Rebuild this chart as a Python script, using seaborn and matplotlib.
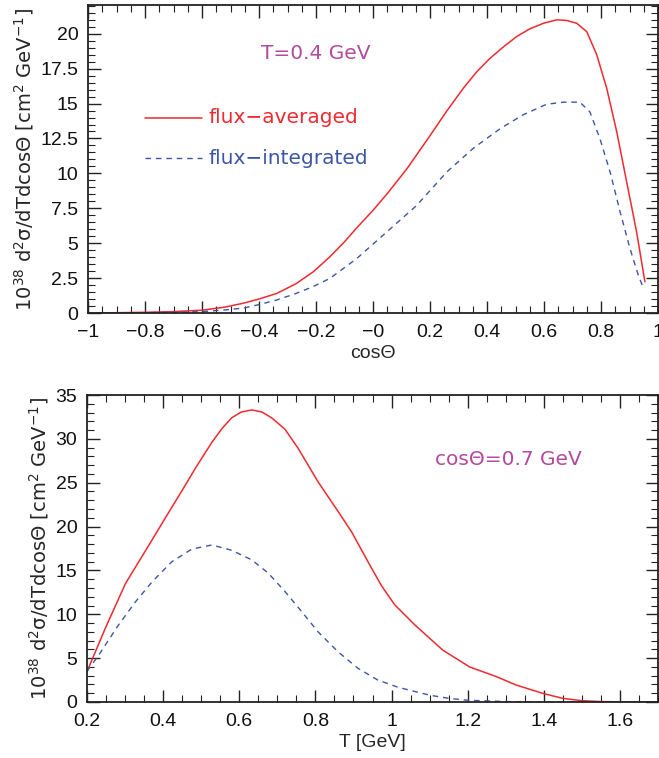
import numpy as np
import pandas as pd
import matplotlib
matplotlib.use("Agg")
import matplotlib.pyplot as plt
from matplotlib.ticker import MultipleLocator
import seaborn as sns

# Top panel: T = 0.4 GeV, distribution in cos(theta)
cos_theta = [-1.0, -0.9, -0.8, -0.7, -0.6, -0.52, -0.455, -0.4, -0.338, -0.27, -0.209,
             -0.151, -0.1, -0.057, 0.0, 0.048, 0.118, 0.2, 0.26, 0.317, 0.365, 0.411,
             0.46, 0.504, 0.55, 0.598, 0.645, 0.68, 0.715, 0.75, 0.785, 0.82, 0.855,
             0.89, 0.925, 0.954]
top_averaged = [0.0, 0.02, 0.05, 0.1, 0.2, 0.42, 0.7, 1.0, 1.4, 2.1, 2.96,
                4.03, 5.1, 6.1, 7.35, 8.5, 10.3, 12.7, 14.5, 16.1, 17.3, 18.25,
                19.1, 19.8, 20.35, 20.75, 21.0, 20.95, 20.75, 20.15, 18.5, 16.1, 13.0,
                9.4, 5.8, 2.24]
cos_theta_int = [-1.0, -0.9, -0.8, -0.7, -0.6, -0.52, -0.455, -0.4, -0.338, -0.27,
                 -0.209, -0.151, -0.057, 0.048, 0.153, 0.259, 0.352, 0.446, 0.527,
                 0.609, 0.668, 0.726, 0.761, 0.796, 0.832, 0.867, 0.902, 0.931, 0.949]
top_integrated = [0.0, 0.01, 0.02, 0.05, 0.1, 0.22, 0.35, 0.6, 0.93, 1.4,
                  1.9, 2.48, 3.9, 5.8, 7.7, 10.1, 11.8, 13.2, 14.2,
                  14.95, 15.1, 15.1, 14.4, 12.5, 10.1, 7.25, 4.6, 2.7, 1.77]

# Bottom panel: cos(theta) = 0.7, distribution in T
t_avg = [0.2, 0.248, 0.301, 0.353, 0.406, 0.458, 0.484, 0.528, 0.555, 0.58, 0.605,
         0.633, 0.66, 0.685, 0.72, 0.755, 0.807, 0.86, 0.895, 0.938, 0.973, 1.008,
         1.061, 1.135, 1.205, 1.275, 1.327, 1.397, 1.449, 1.5, 1.55, 1.6, 1.7]
bot_averaged = [3.46, 8.4, 13.5, 17.2, 21.0, 24.7, 26.6, 29.6, 31.2, 32.4, 33.05,
                33.3, 33.05, 32.4, 31.1, 28.9, 25.1, 21.7, 19.4, 16.0, 13.3, 11.1,
                8.8, 5.9, 4.0, 2.9, 1.94, 0.99, 0.42, 0.15, 0.05, 0.02, 0.0]
t_int = [0.2, 0.231, 0.283, 0.327, 0.371, 0.423, 0.476, 0.528, 0.58, 0.633, 0.676,
         0.72, 0.764, 0.807, 0.86, 0.912, 0.964, 1.017, 1.061, 1.1, 1.15, 1.2, 1.3,
         1.4, 1.7]
bot_integrated = [3.5, 5.36, 8.8, 11.4, 13.7, 16.0, 17.45, 17.9, 17.3, 16.2, 14.7,
                  12.6, 10.3, 8.0, 5.7, 3.84, 2.5, 1.68, 1.2, 0.78, 0.42, 0.2, 0.05,
                  0.01, 0.0]

top_xticks = [-1, -0.8, -0.6, -0.4, -0.2, 0, 0.2, 0.4, 0.6, 0.8, 1]
top_xticklabels = ["\u22121", "\u22120.8", "\u22120.6", "\u22120.4", "\u22120.2", "\u22120",
                   "0.2", "0.4", "0.6", "0.8", "1"]
top_yticks = [0, 2.5, 5, 7.5, 10, 12.5, 15, 17.5, 20]
top_yticklabels = ["0", "2.5", "5", "7.5", "10", "12.5", "15", "17.5", "20"]
bot_xticks = [0.2, 0.4, 0.6, 0.8, 1.0, 1.2, 1.4, 1.6]
bot_xticklabels = ["0.2", "0.4", "0.6", "0.8", "1", "1.2", "1.4", "1.6"]
bot_yticks = [0, 5, 10, 15, 20, 25, 30, 35]

RED = "#ee2a30"
BLUE = "#3d56a6"
MAGENTA = "#b24a9e"
FRAME = "#222222"

sns.set_style("ticks")
plt.rcParams["font.family"] = ["Liberation Sans", "DejaVu Sans"]
plt.rcParams["mathtext.fontset"] = "dejavusans"
plt.rcParams["axes.unicode_minus"] = True

FS = 14          # tick labels and axis titles
FS_TXT = 14.5    # annotations and key
WIDE = ["DejaVu Sans"]
ylabel = "10$^{38}$ d$^{2}$\u03c3/dTdcos\u0398 [cm$^{2}$ GeV$^{-1}$]"

fig = plt.figure(figsize=(6.59, 7.58), dpi=100)
ax1 = fig.add_axes([88 / 659, 1 - 313 / 758, 570 / 659, 308 / 758])
ax2 = fig.add_axes([87 / 659, 1 - 702 / 758, 571 / 659, 307 / 758])

df_top_a = pd.DataFrame({"x": cos_theta, "y": top_averaged})
df_top_i = pd.DataFrame({"x": cos_theta_int, "y": top_integrated})
df_bot_a = pd.DataFrame({"x": t_avg, "y": bot_averaged})
df_bot_i = pd.DataFrame({"x": t_int, "y": bot_integrated})

sns.lineplot(data=df_top_a, x="x", y="y", ax=ax1, color=RED, lw=1.1, sort=False)
sns.lineplot(data=df_top_i, x="x", y="y", ax=ax1, color=BLUE, lw=1.0, sort=False,
             dashes=False).lines[-1].set_dashes([4, 3.5])
sns.lineplot(data=df_bot_a, x="x", y="y", ax=ax2, color=RED, lw=1.1, sort=False)
sns.lineplot(data=df_bot_i, x="x", y="y", ax=ax2, color=BLUE, lw=1.0, sort=False,
             dashes=False).lines[-1].set_dashes([4, 3.5])

# key drawn in data coordinates inside the top panel
ax1.plot([-0.8, -0.6], [14.0, 14.0], color=RED, lw=1.1)
ax1.plot([-0.8, -0.6], [11.1, 11.1], color=BLUE, lw=1.0, dashes=[4, 3.5])
ax1.text(-0.578, 14.0, "flux\u2212averaged", color=RED, fontsize=FS_TXT,
         family=WIDE, va="center", ha="left")
ax1.text(-0.578, 11.1, "flux\u2212integrated", color=BLUE, fontsize=FS_TXT,
         family=WIDE, va="center", ha="left")
ax1.text(-0.2, 18.6, "T=0.4 GeV", color=MAGENTA, fontsize=FS_TXT,
         family=WIDE, va="center", ha="center")
ax2.text(1.307, 27.6, "cos\u0398=0.7 GeV", color=MAGENTA, fontsize=FS_TXT,
         family=WIDE, va="center", ha="center")

ax1.set_xlim(-1, 1)
ax1.set_ylim(0, 22.06)
ax1.set_xticks(top_xticks)
ax1.set_xticklabels(top_xticklabels)
ax1.set_yticks(top_yticks)
ax1.set_yticklabels(top_yticklabels)
ax1.xaxis.set_minor_locator(MultipleLocator(0.05))
ax1.yaxis.set_minor_locator(MultipleLocator(0.5))
ax1.set_xlabel("cos\u0398", fontsize=FS, labelpad=3)

ax2.set_xlim(0.2, 1.7)
ax2.set_ylim(0, 35)
ax2.set_xticks(bot_xticks)
ax2.set_xticklabels(bot_xticklabels)
ax2.set_yticks(bot_yticks)
ax2.xaxis.set_minor_locator(MultipleLocator(0.05))
ax2.yaxis.set_minor_locator(MultipleLocator(1))
ax2.set_xlabel("T [GeV]", fontsize=FS, labelpad=3)

for ax in (ax1, ax2):
    ax.set_ylabel(ylabel, fontsize=14, family=WIDE, labelpad=3)
    for s in ax.spines.values():
        s.set_visible(True)
        s.set_linewidth(1.3)
        s.set_color(FRAME)
    ax.tick_params(which="both", direction="in", top=True, right=True,
                   color=FRAME, labelsize=FS, labelcolor="#111111")
    ax.tick_params(which="major", length=9, width=1.0)
    ax.tick_params(which="minor", length=5, width=0.8)
    ax.tick_params(axis="x", which="major", pad=8)
    ax.tick_params(axis="y", which="major", pad=7)

fig.savefig("out.png", dpi=100)
